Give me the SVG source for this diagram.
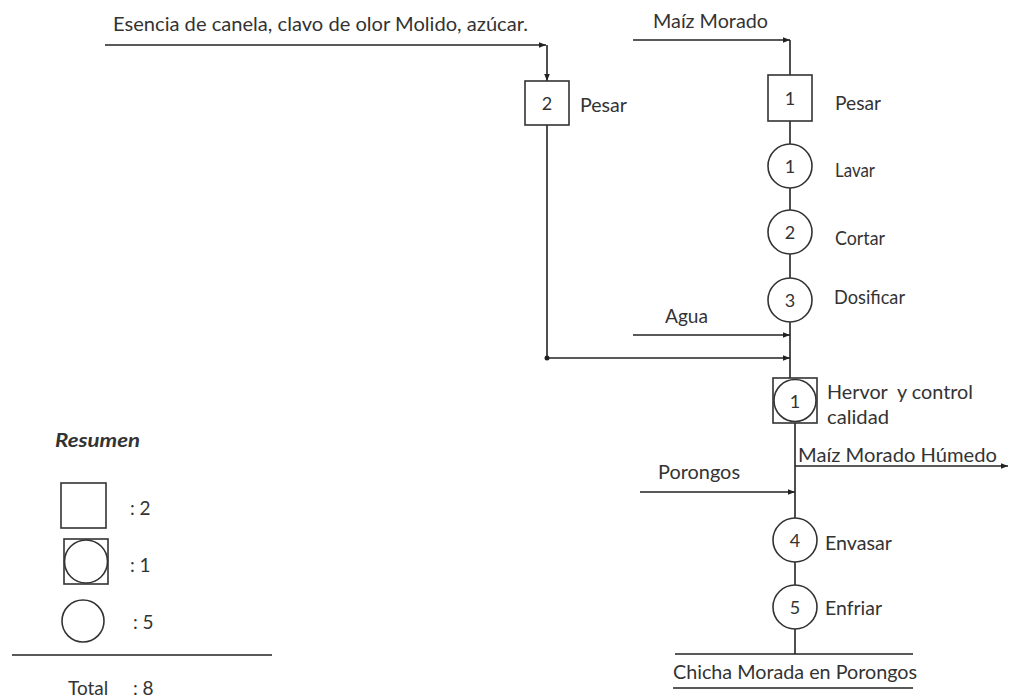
<svg xmlns="http://www.w3.org/2000/svg" width="1012" height="699" viewBox="0 0 1012 699">
<style>
text{font-family:Lato,"Open Sans","Liberation Sans",sans-serif;font-size:19px;fill:#333}
.num{text-anchor:middle;dominant-baseline:central;font-size:18px}
.lbl{dominant-baseline:central}
.shape{fill:#fff;stroke:#333;stroke-width:1.6}
.ln{fill:none;stroke:#222;stroke-width:1.6}
.b{font-weight:bold;font-style:italic}
.pre{white-space:pre}
</style>
<defs>
<marker id="ah" viewBox="0 0 10 10" refX="10" refY="5" markerWidth="7" markerHeight="7" markerUnits="userSpaceOnUse" orient="auto">
<path d="M0,1 L10,5 L0,9 z" fill="#222"/>
</marker>
</defs>
<rect width="1012" height="699" fill="#fff"/>
<g id="connectors">
<path class="ln" d="M105,45 H546" marker-end="url(#ah)"/>
<path class="ln" d="M547,45 V81" marker-end="url(#ah)"/>
<path class="ln" d="M547,125 V358"/>
<circle cx="547" cy="358" r="2.5" fill="#222"/>
<path class="ln" d="M547,358 H790" marker-end="url(#ah)"/>
<path class="ln" d="M633,40 H790" marker-end="url(#ah)"/>
<path class="ln" d="M790,40 V75"/>
<path class="ln" d="M790,121 V144"/>
<path class="ln" d="M790,188 V210"/>
<path class="ln" d="M790,254 V278"/>
<path class="ln" d="M790,322 V378"/>
<path class="ln" d="M633,335 H790" marker-end="url(#ah)"/>
<path class="ln" d="M795,423 V518"/>
<path class="ln" d="M795,466 H1008" marker-end="url(#ah)"/>
<path class="ln" d="M640,492 H795" marker-end="url(#ah)"/>
<path class="ln" d="M795,562 V585"/>
<path class="ln" d="M795,629 V654"/>
<path class="ln" d="M675,654 H913"/>
<path class="ln" d="M673,688 H913"/>
</g>
<g id="input-esencia"><text x="113" y="31" textLength="415" lengthAdjust="spacingAndGlyphs">Esencia de canela, clavo de olor Molido, azúcar.</text></g>
<g id="input-maiz"><text x="653" y="28" textLength="115" lengthAdjust="spacingAndGlyphs">Maíz Morado</text></g>
<g id="op-pesar2">
<rect class="shape" x="525" y="81" width="44" height="44"/>
<text class="num" x="547" y="103">2</text>
<text class="lbl" x="580" y="104" textLength="47" lengthAdjust="spacingAndGlyphs">Pesar</text>
</g>
<g id="op-pesar1">
<rect class="shape" x="768" y="75" width="44" height="46"/>
<text class="num" x="790" y="98">1</text>
<text class="lbl" x="835" y="102" textLength="46" lengthAdjust="spacingAndGlyphs">Pesar</text>
</g>
<g id="op-lavar">
<circle class="shape" cx="790" cy="166" r="22"/>
<text class="num" x="790" y="166">1</text>
<text class="lbl" x="835" y="169" textLength="40" lengthAdjust="spacingAndGlyphs">Lavar</text>
</g>
<g id="op-cortar">
<circle class="shape" cx="790" cy="232" r="22"/>
<text class="num" x="790" y="232">2</text>
<text class="lbl" x="835" y="237" textLength="50" lengthAdjust="spacingAndGlyphs">Cortar</text>
</g>
<g id="op-dosificar">
<circle class="shape" cx="790" cy="300" r="22"/>
<text class="num" x="790" y="300">3</text>
<text class="lbl" x="834" y="296" textLength="71" lengthAdjust="spacingAndGlyphs">Dosificar</text>
</g>
<g id="input-agua"><text x="665" y="323" textLength="43" lengthAdjust="spacingAndGlyphs">Agua</text></g>
<g id="op-hervor">
<rect class="shape" x="773" y="378" width="44" height="45"/>
<circle class="shape" cx="795" cy="400.5" r="21"/>
<text class="num" x="795" y="401">1</text>
<text class="pre" x="827" y="399" textLength="146" lengthAdjust="spacingAndGlyphs">Hervor  y control</text>
<text x="827" y="424" textLength="62" lengthAdjust="spacingAndGlyphs">calidad</text>
</g>
<g id="output-humedo"><text x="798" y="462" textLength="199" lengthAdjust="spacingAndGlyphs">Maíz Morado Húmedo</text></g>
<g id="input-porongos"><text x="658" y="479" textLength="82" lengthAdjust="spacingAndGlyphs">Porongos</text></g>
<g id="op-envasar">
<circle class="shape" cx="795" cy="540" r="22"/>
<text class="num" x="795" y="540">4</text>
<text class="lbl" x="825" y="542" textLength="67" lengthAdjust="spacingAndGlyphs">Envasar</text>
</g>
<g id="op-enfriar">
<circle class="shape" cx="795" cy="607" r="22"/>
<text class="num" x="795" y="607">5</text>
<text class="lbl" x="825" y="607" textLength="57" lengthAdjust="spacingAndGlyphs">Enfriar</text>
</g>
<g id="output-chicha"><text x="673" y="679" textLength="244" lengthAdjust="spacingAndGlyphs">Chicha Morada en Porongos</text></g>
<g id="legend">
<text class="b" x="55" y="447" textLength="85" lengthAdjust="spacingAndGlyphs">Resumen</text>
<rect class="shape" x="61" y="483" width="45" height="45"/>
<text class="lbl" x="130" y="507">: 2</text>
<rect class="shape" x="64" y="539" width="44" height="45"/>
<circle class="shape" cx="86" cy="561.5" r="21.5"/>
<text class="lbl" x="130" y="564">: 1</text>
<circle class="shape" cx="83" cy="621" r="21"/>
<text class="lbl" x="133" y="621">: 5</text>
<path class="ln" d="M12,655 H272"/>
<text class="lbl" x="68" y="687">Total</text>
<text class="lbl" x="133" y="687">: 8</text>
</g>
</svg>
